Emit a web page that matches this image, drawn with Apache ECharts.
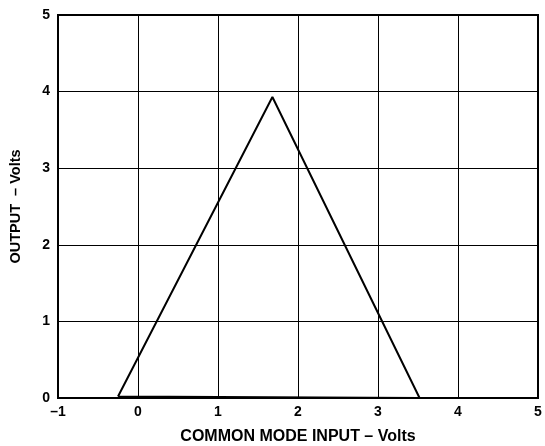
<!DOCTYPE html>
<html><head><meta charset="utf-8">
<script src="https://cdn.jsdelivr.net/npm/echarts@6/dist/echarts.min.js"></script>
<style>html,body{margin:0;padding:0;background:#fff}#c{width:545px;height:446px}</style>
</head><body><div id="c"></div>
<script>
const curveX = [-0.25, 1.68, 3.52, -0.25];
const curveY = [0.02, 3.93, 0.0, 0.02];
const xTicks = [-1, 0, 1, 2, 3, 4, 5];
const yTicks = [0, 1, 2, 3, 4, 5];
const xTitle = 'COMMON MODE INPUT – Volts';
const yTitle = 'OUTPUT  – Volts';

const chart = echarts.init(document.getElementById('c'), null, {renderer: 'canvas'});
const font = {fontFamily: 'Liberation Sans, Arial, sans-serif', fontWeight: 'bold', color: '#000'};
chart.setOption({
  animation: false,
  grid: {left: 58, right: 7, top: 15, bottom: 48, show: true, borderColor: '#000', borderWidth: 2,
         containLabel: false, outerBoundsMode: 'none'},
  xAxis: {
    type: 'value', min: xTicks[0], max: xTicks[xTicks.length - 1], interval: 1,
    name: xTitle, nameLocation: 'middle', nameGap: 31,
    nameTextStyle: Object.assign({fontSize: 16}, font),
    axisLine: {show: false}, axisTick: {show: false},
    axisLabel: Object.assign({fontSize: 14, margin: 7, formatter: v => String(v).replace('-', '–')}, font),
    splitLine: {show: true, lineStyle: {color: '#000', width: 1}}
  },
  yAxis: {
    type: 'value', min: yTicks[0], max: yTicks[yTicks.length - 1], interval: 1,
    name: yTitle, nameLocation: 'middle', nameGap: 35,
    nameTextStyle: Object.assign({fontSize: 14.5}, font),
    axisLine: {show: false}, axisTick: {show: false},
    axisLabel: Object.assign({fontSize: 14, margin: 8}, font),
    splitLine: {show: true, lineStyle: {color: '#000', width: 1}}
  },
  series: [{
    type: 'line', symbol: 'none',
    data: curveX.map((x, i) => [x, curveY[i]]),
    lineStyle: {color: '#000', width: 2}
  }]
});
</script></body></html>
